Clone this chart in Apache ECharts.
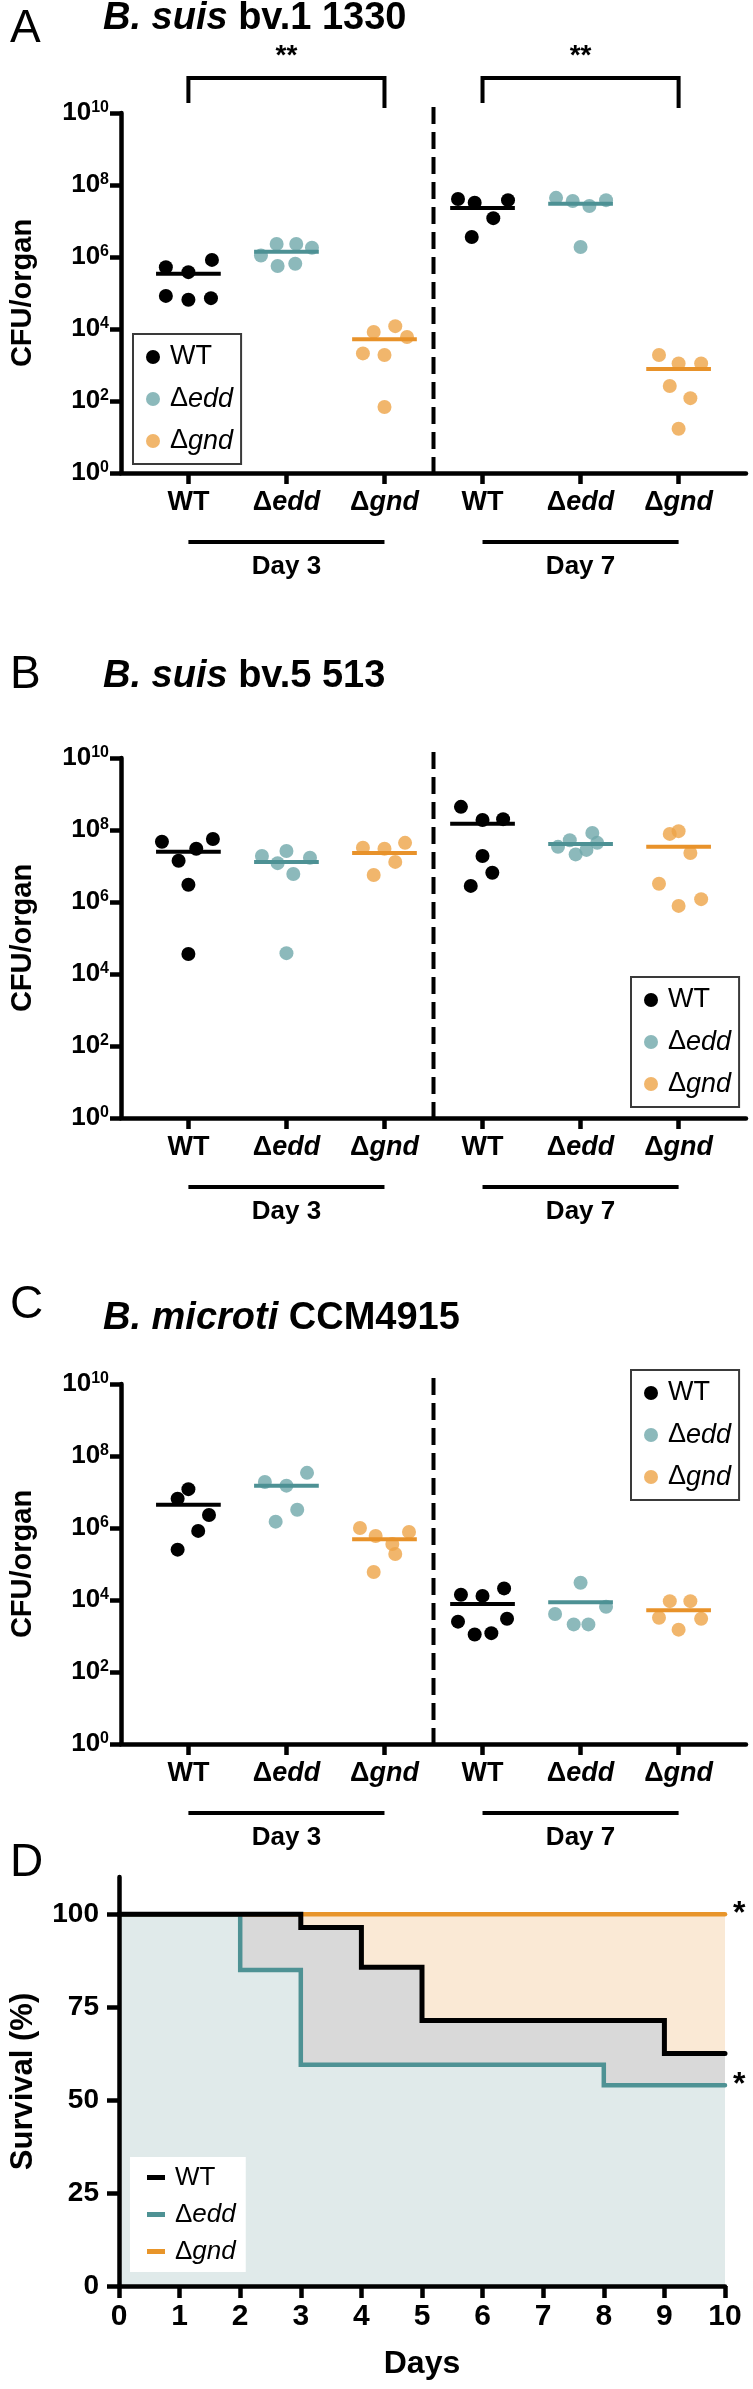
<!DOCTYPE html>
<html><head><meta charset="utf-8">
<script src="https://cdn.jsdelivr.net/npm/echarts@6/dist/echarts.min.js"></script>
<style>html,body{margin:0;padding:0;background:#fff}#c{width:753px;height:2389px}</style>
</head><body><div id="c"></div>
<script>
const FONT = '"Liberation Sans", Arial, Helvetica, sans-serif';
const categories = ['WT','Δedd','Δgnd','WT','Δedd','Δgnd'];
const categoryPositions = [1,2,3,4,5,6];
const strains = ['WT','Δedd','Δgnd'];
const dayGroups = ['Day 3','Day 7'];
const cfuTicks = [1,1e2,1e4,1e6,1e8,1e10];
const survivalTicks = [0,25,50,75,100];
const panelTitles = ['{i|B. suis}{n| bv.1 1330}','{i|B. suis}{n| bv.5 513}','{i|B. microti}{n| CCM4915}'];
const panelLetters = ['A','B','C','D'];

// Panel A  (values per day: [Day 3], [Day 7]; jitter = horizontal offset in category units)
const A_WT = [[5.2e5,3.8e5,8.3e5,8.3e4,6.5e4,7.2e4],[4.1e7,3.2e7,3.8e7,1.2e7,3.6e6]];
const A_WT_jitter = [[-0.23,0,0.24,-0.23,0,0.23],[-0.25,-0.08,0.26,0.11,-0.11]];
const A_WT_mean = [3.4e5,2.3e7];
const A_edd = [[1.1e6,2.3e6,2.3e6,1.8e6,5.6e5,6.5e5],[4.4e7,3.6e7,2.6e7,3.8e7,1.9e6]];
const A_edd_jitter = [[-0.26,-0.1,0.1,0.26,-0.09,0.09],[-0.25,-0.08,0.09,0.26,0]];
const A_edd_mean = [1.4e6,3.0e7];
const A_gnd = [[8.3e3,1.2e4,6.0e3,2.1e3,1.9e3,68],[1.9e3,1.1e3,1.1e3,260,120,17]];
const A_gnd_jitter = [[-0.11,0.11,0.23,-0.22,0,0],[-0.2,0,0.23,-0.09,0.12,0]];
const A_gnd_mean = [5.2e3,780];
const A_brackets = [[1,3],[4,6]];
const A_bracketLabels = ['**','**'];

// Panel B
const B_WT = [[4.7e7,5.6e7,3.0e7,1.4e7,3.0e6,3.6e4],[4.4e8,1.9e8,2.0e8,1.9e7,6.5e6,2.8e6]];
const B_WT_jitter = [[-0.27,0.25,0.08,-0.1,0,0],[-0.22,0,0.21,0,0.1,-0.12]];
const B_WT_mean = [2.5e7,1.5e8];
const B_edd = [[1.9e7,2.6e7,1.7e7,1.2e7,6.0e6,3.8e4],[5.2e7,8.3e7,4.4e7,3.4e7,2.1e7,2.8e7]];
const B_edd_jitter = [[-0.25,0,0.24,-0.09,0.07,0],[-0.11,0.12,0.17,-0.23,-0.05,0.06]];
const B_edd_mean = [1.3e7,4.1e7];
const B_gnd = [[3.2e7,3.0e7,4.4e7,1.3e7,5.6e6],[7.8e7,9.3e7,2.3e7,3.2e6,7.8e5,1.2e6]];
const B_gnd_jitter = [[-0.22,0,0.21,0.11,-0.11],[-0.09,0,0.12,-0.2,0,0.23]];
const B_gnd_mean = [2.3e7,3.4e7];

// Panel C
const C_WT = [[1.2e7,6.5e6,2.3e6,8.3e5,2.5e5],[1.4e4,1.3e4,2.1e4,2.5e3,1.1e3,1.2e3,3.0e3]];
const C_WT_jitter = [[0,-0.11,0.21,0.1,-0.11],[-0.22,0,0.22,-0.25,-0.08,0.09,0.25]];
const C_WT_mean = [4.4e6,7.8e3];
const C_edd = [[1.9e7,1.5e7,3.4e7,3.2e6,1.5e6],[3.0e4,6.5e3,4.1e3,2.1e3,2.1e3]];
const C_edd_jitter = [[-0.22,0,0.21,0.11,-0.11],[0,0.26,-0.26,-0.07,0.08]];
const C_edd_mean = [1.5e7,8.7e3];
const C_gnd = [[1.0e6,6.0e5,7.8e5,3.6e5,1.9e5,6.0e4],[9.3e3,9.3e3,3.2e3,3.0e3,1.5e3]];
const C_gnd_jitter = [[-0.25,-0.09,0.25,0.08,0.11,-0.11],[-0.09,0.12,-0.2,0.23,0]];
const C_gnd_mean = [4.9e5,5.2e3];

// Panel D (Kaplan-Meier survival, %)
const surv_WT = [[0,100],[3,96.4],[4,85.7],[5,71.4],[9,62.5],[10,62.5]];
const surv_edd = [[0,100],[2,85],[3,59.5],[8,54],[10,54]];
const surv_gnd = [[0,100],[10,100]];
const surv_marks = ['', '*', '*'];

const dotColors = ['#000000','#6fa8aa','#eda447'];
const dotOpacity = [1,0.8,0.8];
const meanColors = ['#000000','#4d9194','#e8922a'];
const survLineColors = ['#000000','#4e9294','#e8952a'];
const survFillColors = ['#d9d9d9','#e0eaea','#fae9d5'];

const labelRich = {
  b:{fontSize:27,fontWeight:'bold',color:'#000',fontFamily:FONT},
  i:{fontSize:27,fontWeight:'bold',fontStyle:'italic',color:'#000',fontFamily:FONT}
};
const supRich = {
  b:{fontSize:26,fontWeight:'bold',color:'#000',fontFamily:FONT,padding:[2,0,0,0],verticalAlign:'bottom',lineHeight:26},
  s:{fontSize:16,fontWeight:'bold',color:'#000',fontFamily:FONT,verticalAlign:'top',lineHeight:16}
};
function catLabel(v){
  const name = categories[Math.round(v)-1];
  return name === 'WT' ? '{b|WT}' : '{b|Δ}{i|' + name.slice(1) + '}';
}
function legendFmt(name){
  const n = name.trim();
  return n === 'WT' ? '{w|WT}' : '{d|Δ}{i|' + n.slice(1) + '}';
}
function legendRich(fs){
  return {
    w:{fontSize:fs,color:'#000',fontFamily:FONT,padding:[0,0,0,5]},
    d:{fontSize:fs,color:'#000',fontFamily:FONT,padding:[0,0,0,5]},
    i:{fontSize:fs,color:'#000',fontFamily:FONT,fontStyle:'italic'}
  };
}
function strainLegend(left, top){
  return {orient:'vertical',left,top,data:strains,icon:'circle',itemWidth:14,itemHeight:14,itemGap:12,
    padding:[8,8,8,13],borderColor:'#3a3a3a',borderWidth:2,backgroundColor:'#fff',selectedMode:false,
    textStyle:{fontSize:27,lineHeight:30,color:'#000',fontFamily:FONT,rich:legendRich(27)},formatter:legendFmt};
}

const gridsCfu = [
  {left:117,top:113,width:629,height:360},
  {left:117,top:758,width:629,height:360},
  {left:117,top:1384,width:629,height:360}
];
const gridSurv = {left:115,top:1877,width:610,height:409};

const xAxes = [], yAxes = [];
gridsCfu.forEach((g,gi)=>{
  xAxes.push({type:'value',gridIndex:gi,min:0.3125,max:6.6875,z:5,
    axisLine:{onZero:false,lineStyle:{color:'#000',width:4.5}},
    axisTick:{show:true,customValues:categoryPositions,length:11,lineStyle:{color:'#000',width:4.5}},
    axisLabel:{customValues:categoryPositions,margin:16,formatter:catLabel,rich:labelRich},
    splitLine:{show:false}});
  yAxes.push({type:'log',logBase:10,gridIndex:gi,min:1,max:1e10,z:5,
    axisLine:{show:true,onZero:false,lineStyle:{color:'#000',width:4.5}},
    axisTick:{show:true,customValues:cfuTicks,length:11,lineStyle:{color:'#000',width:4.5}},
    axisLabel:{customValues:cfuTicks,margin:12,formatter:v=>'{b|10}{s|'+Math.round(Math.log10(v))+'}',rich:supRich},
    splitLine:{show:false},minorTick:{show:false},
    name:'CFU/organ',nameLocation:'middle',nameGap:84,
    nameTextStyle:{fontSize:29,fontWeight:'bold',color:'#000',fontFamily:FONT}});
});
xAxes.push({type:'value',gridIndex:3,min:0,max:10,interval:1,z:5,
  axisLine:{onZero:false,lineStyle:{color:'#000',width:4.5}},
  axisTick:{show:true,length:12,lineStyle:{color:'#000',width:4.5}},
  axisLabel:{margin:16,fontSize:30,fontWeight:'bold',color:'#000',fontFamily:FONT},
  splitLine:{show:false},
  name:'Days',nameLocation:'middle',nameGap:62,
  nameTextStyle:{fontSize:32,fontWeight:'bold',color:'#000',fontFamily:FONT}});
yAxes.push({type:'value',gridIndex:3,min:0,max:110,z:5,
  axisLine:{onZero:false,lineStyle:{color:'#000',width:4.5}},
  axisTick:{show:true,customValues:survivalTicks,length:12,lineStyle:{color:'#000',width:4.5}},
  axisLabel:{customValues:survivalTicks,margin:20,fontSize:28,fontWeight:'bold',color:'#000',fontFamily:FONT},
  splitLine:{show:false},
  name:'Survival (%)',nameLocation:'middle',nameGap:80,
  nameTextStyle:{fontSize:31,fontWeight:'bold',color:'#000',fontFamily:FONT}});

const panels = [
  {grid:0, groups:[[A_WT,A_WT_jitter,A_WT_mean],[A_edd,A_edd_jitter,A_edd_mean],[A_gnd,A_gnd_jitter,A_gnd_mean]]},
  {grid:1, groups:[[B_WT,B_WT_jitter,B_WT_mean],[B_edd,B_edd_jitter,B_edd_mean],[B_gnd,B_gnd_jitter,B_gnd_mean]]},
  {grid:2, groups:[[C_WT,C_WT_jitter,C_WT_mean],[C_edd,C_edd_jitter,C_edd_mean],[C_gnd,C_gnd_jitter,C_gnd_mean]]}
];
const series = [];
panels.forEach(p=>{
  p.groups.forEach((g,k)=>{
    const [vals,jit] = g;
    const pts = [];
    vals.forEach((dayVals,d)=>dayVals.forEach((v,i)=>pts.push([d*3+k+1+jit[d][i], v])));
    series.push({type:'scatter',name:strains[k],xAxisIndex:p.grid,yAxisIndex:p.grid,data:pts,
      symbolSize:14,itemStyle:{color:dotColors[k],opacity:dotOpacity[k]},z:3,silent:true});
  });
  p.groups.forEach((g,k)=>{
    const means = g[2];
    series.push({type:'custom',name:strains[k]+' mean',xAxisIndex:p.grid,yAxisIndex:p.grid,z:4,silent:true,
      data:means.map((m,d)=>[d*3+k+1,m]),
      renderItem:(params,api)=>{
        const x=api.value(0), y=api.value(1);
        const a=api.coord([x-0.33,y]), b=api.coord([x+0.33,y]);
        return {type:'line',shape:{x1:a[0],y1:a[1],x2:b[0],y2:b[1]},style:{stroke:meanColors[k],lineWidth:4}};
      }});
  });
});
// survival: fills (bottom to top: gnd, WT, edd) then lines (gnd, edd, WT)
const survData = [surv_WT, surv_edd, surv_gnd];
[2,0,1].forEach((k,ord)=>{
  series.push({type:'line',name:strains[k]+' fill',xAxisIndex:3,yAxisIndex:3,step:'end',symbol:'none',silent:true,
    data:survData[k],lineStyle:{width:0},areaStyle:{color:survFillColors[k],opacity:1},z:1+ord*0.1});
});
[2,1,0].forEach((k,ord)=>{
  series.push({type:'line',name:strains[k]+' ',xAxisIndex:3,yAxisIndex:3,step:'end',symbol:'none',silent:true,
    data:survData[k],itemStyle:{color:survLineColors[k]},
    lineStyle:{color:survLineColors[k],width:k===0?5:4.5,cap:'round',join:'miter'},
    endLabel:{show:surv_marks[k]!=='',formatter:surv_marks[k],fontSize:32,fontWeight:'bold',color:'#000',distance:8,fontFamily:FONT},
    z:3+ord});
});

const titles = [];
panelLetters.forEach((L,i)=>{
  titles.push({text:L,left:10,top:[6,652,1282,1840][i],padding:0,
    textStyle:{fontSize:46,fontWeight:'normal',color:'#000',fontFamily:FONT}});
});
panelTitles.forEach((t,i)=>{
  titles.push({text:t,left:103,top:[0,658,1300][i],padding:0,
    textStyle:{rich:{i:{fontSize:38,fontWeight:'bold',fontStyle:'italic',color:'#000',fontFamily:FONT},
                     n:{fontSize:38,fontWeight:'bold',color:'#000',fontFamily:FONT}}}});
});

const option = {
  animation:false,
  backgroundColor:'#fff',
  textStyle:{fontFamily:FONT},
  title:titles,
  legend:[
    strainLegend(133,334),
    strainLegend(631,977),
    strainLegend(631,1370),
    {orient:'vertical',left:130,top:2157,data:['WT ','Δedd ','Δgnd '],icon:'rect',itemWidth:18,itemHeight:5,itemGap:10,
      padding:[7,10,7,17],backgroundColor:'#fff',selectedMode:false,
      textStyle:{fontSize:26,lineHeight:27,color:'#000',fontFamily:FONT,rich:legendRich(26)},formatter:legendFmt}
  ],
  grid:[...gridsCfu, gridSurv],
  xAxis:xAxes, yAxis:yAxes, series
};

const chart = echarts.init(document.getElementById('c'), null, {renderer:'canvas'});
chart.setOption(option);

// annotations positioned through the axes' own scales
const graphics = [];
const fontDay = 'bold 26px ' + FONT;
gridsCfu.forEach((g,gi)=>{
  const top = chart.convertToPixel({gridIndex:gi},[3.5,1e10]);
  const bot = chart.convertToPixel({gridIndex:gi},[3.5,1]);
  graphics.push({type:'line',shape:{x1:top[0],y1:top[1]-6,x2:bot[0],y2:bot[1]+6},
    style:{stroke:'#000',lineWidth:4,lineDash:[17,8]},z:10});
  dayGroups.forEach((d,di)=>{
    const p1 = chart.convertToPixel({gridIndex:gi},[di*3+1,1]);
    const p3 = chart.convertToPixel({gridIndex:gi},[di*3+3,1]);
    const y = p1[1]+69;
    graphics.push({type:'line',shape:{x1:p1[0],y1:y,x2:p3[0],y2:y},style:{stroke:'#000',lineWidth:4},z:10});
    graphics.push({type:'text',x:(p1[0]+p3[0])/2,y:y+25,z:10,
      style:{text:d,font:fontDay,fill:'#000',textAlign:'center',textVerticalAlign:'middle'}});
  });
});
A_brackets.forEach((br,bi)=>{
  const a = chart.convertToPixel({gridIndex:0},[br[0],1e10]);
  const b = chart.convertToPixel({gridIndex:0},[br[1],1e10]);
  const yH = a[1]-35;
  graphics.push({type:'polyline',shape:{points:[[a[0],a[1]-10],[a[0],yH],[b[0],yH],[b[0],b[1]-5]]},
    style:{stroke:'#000',lineWidth:4,fill:null},z:10});
  graphics.push({type:'text',x:(a[0]+b[0])/2,y:yH-22,z:10,
    style:{text:A_bracketLabels[bi],font:'bold 28px '+FONT,fill:'#000',textAlign:'center',textVerticalAlign:'middle'}});
});
chart.setOption({graphic:graphics});
</script></body></html>
